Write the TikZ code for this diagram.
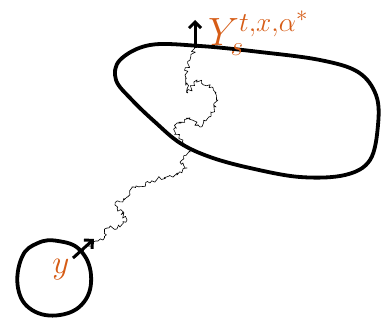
\documentclass[tikz,border=0pt]{standalone}
\usetikzlibrary{decorations.pathmorphing,arrows.meta}
\definecolor{ink}{RGB}{214,92,22}
\tikzset{blob/.style={line width=3.8pt,line join=round},
  walk/.style={line width=0.6pt,line join=round,decorate,decoration={random steps,segment length=2pt,amplitude=2.2pt}},
  push/.style={line width=3pt,-{Straight Barb[length=6pt,width=12pt,line width=3pt]}},
  lab/.style={text=ink,inner sep=0pt,font=\huge}}
\begin{document}
\begin{tikzpicture}[x=1pt,y=-1pt]
\useasboundingbox (0,0) rectangle (382,323);
\pgfmathsetseed{7}
% domain
\draw[blob] plot[smooth cycle,tension=0.6] coordinates{(120,60) (150,45) (200,46) (260,52) (320,60) (358,72) (376,95) (378,125) (370,160) (345,175) (300,177) (250,168) (210,157) (180,143) (155,122) (132,100) (116,80)};
% start ball
\draw[blob] plot[smooth cycle,tension=0.7] coordinates{(58,241) (80,250) (91,275) (84,302) (60,315) (32,310) (18,288) (22,257) (38,243)};
\coordinate (y0) at (73,258);
\coordinate (ys) at (195,48);
% path
\draw[walk] (y0) -- (88,246) -- (103,240) -- (107,228) -- (120,227) -- (127,220) -- (115,205) -- (127,197) -- (132,187) -- (150,183) -- (158,178) -- (177,175) -- (187,168) -- (180,162) -- (190,152) -- (183,140) -- (175,132) -- (177,123) -- (190,118) -- (200,127) -- (210,117) -- (218,100) -- (212,87) -- (197,80) -- (188,93) -- (185,75) -- (190,60) -- (ys);
\draw[push] (y0) -- (94,239);
\draw[push] (ys) -- (195,20);
\node[lab] (yl) at (61,270) {\scalebox{1.6}{$y$}};
\node[lab,anchor=base west] (Yl) at (208,46) {\scalebox{1.9}{$Y_s^{t,x,\alpha^*}$}};
\end{tikzpicture}
\end{document}
